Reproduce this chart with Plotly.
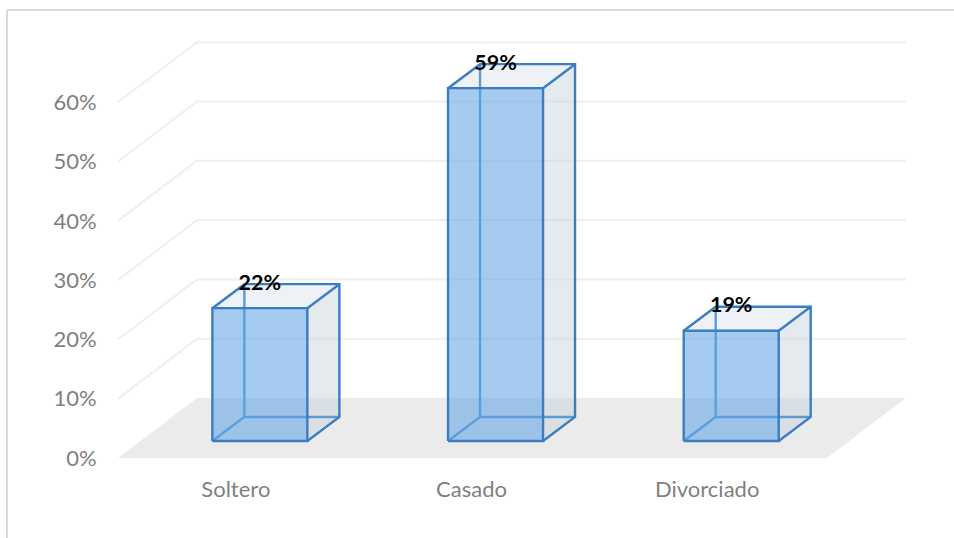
import plotly.graph_objects as go

categories = ["Soltero", "Casado", "Divorciado"]
values = [22.4, 59.5, 18.6]
value_labels = ["22%", "59%", "19%"]
y_ticks = [0, 10, 20, 30, 40, 50, 60]

W, H = 954, 538
L, R, T, B = 118, 0, 10, 80
PX_X = 235.67
PX_Y = 5.93
x0 = -0.5
xr = [x0, x0 + (W - L - R) / PX_X]
yr = [0, (H - T - B) / PX_Y]

# depth of the floor and the bars, in axis units
floor_dx, floor_dy = 79 / PX_X, 60 / PX_Y
floor_w = 3.008
bar_dx, bar_dy = 0.102, 17 / PX_Y
box_dx, box_dy = 32 / PX_X, 24 / PX_Y
half = 47.5 / PX_X

LINE = "#3a7dc0"
INNER = "#5b9bd5"

fig = go.Figure()


def poly(xs, ys, fill=None, line=None, width=2.4):
    fig.add_trace(go.Scatter(
        x=xs, y=ys,
        mode="lines",
        fill="toself" if fill else "none",
        fillcolor=fill,
        line=dict(color=line or "rgba(0,0,0,0)", width=width if line else 0),
        hoverinfo="skip", showlegend=False, cliponaxis=False,
    ))


# gridlines (side wall and back wall)
for t in y_ticks[1:]:
    poly([x0, x0 + floor_dx], [t, t + floor_dy], line="#efefef", width=2)
for t in y_ticks[1:]:
    poly([x0 + floor_dx, x0 + floor_dx + floor_w], [t + floor_dy, t + floor_dy], line="#efefef", width=2)

# floor
poly([x0, x0 + floor_w, x0 + floor_w + floor_dx, x0 + floor_dx, x0],
     [0, 0, floor_dy, floor_dy, 0], fill="#ebebeb")

for i, v in enumerate(values):
    xl = i + bar_dx - half
    xh = i + bar_dx + half
    yb = bar_dy
    yt = bar_dy + v
    # right side face
    poly([xh, xh + box_dx, xh + box_dx, xh, xh],
         [yb, yb + box_dy, yt + box_dy, yt, yb], fill="rgba(198,208,218,0.45)")
    # top face
    poly([xl, xh, xh + box_dx, xl + box_dx, xl],
         [yt, yt, yt + box_dy, yt + box_dy, yt], fill="rgba(222,230,237,0.5)")
    # hidden edges seen through the glass
    poly([xl, xl + box_dx, xl + box_dx], [yb, yb + box_dy, yt + box_dy], line=INNER)
    poly([xl + box_dx, xh + box_dx], [yb + box_dy, yb + box_dy], line=INNER)
    # front face
    poly([xl, xh, xh, xl, xl], [yb, yb, yt, yt, yb], fill="rgba(91,160,230,0.55)")
    # visible edges
    poly([xl, xh, xh, xl, xl], [yb, yb, yt, yt, yb], line=LINE)
    poly([xl, xl + box_dx, xh + box_dx, xh + box_dx, xh],
         [yt, yt + box_dy, yt + box_dy, yb + box_dy, yb], line=LINE)
    poly([xh, xh + box_dx], [yt, yt + box_dy], line=LINE)

# value labels
fig.add_trace(go.Scatter(
    x=[i + bar_dx for i in range(len(values))],
    y=[v + bar_dy + box_dy for v in values],
    mode="text", text=value_labels, textposition="middle center",
    textfont=dict(family="Lato", size=21.5, color="#000000", weight="bold"),
    hoverinfo="skip", showlegend=False, cliponaxis=False,
))

# chart frame (top and left edges)
plot_w, plot_h = W - L - R, H - T - B
fx = (7 - L) / plot_w
fy = (H - B - 10) / plot_h
frame = dict(color="#d9d9d9", width=2)
fig.add_shape(type="line", xref="paper", yref="paper", x0=fx, x1=1, y0=fy, y1=fy, line=frame)
fig.add_shape(type="line", xref="paper", yref="paper", x0=fx, x1=fx, y0=-B / plot_h, y1=fy, line=frame)

tick_font = dict(family="Lato", size=22, color="#7f7f7f")
fig.update_layout(
    width=W, height=H,
    margin=dict(l=L, r=R, t=T, b=B, autoexpand=False),
    paper_bgcolor="white", plot_bgcolor="rgba(0,0,0,0)",
    showlegend=False,
    xaxis=dict(range=xr, tickmode="array", tickvals=list(range(len(categories))),
               ticktext=categories, showgrid=False, zeroline=False, showline=False,
               ticks="outside", ticklen=12, tickcolor="rgba(0,0,0,0)",
               tickfont=tick_font, fixedrange=True),
    yaxis=dict(range=yr, tickmode="array", tickvals=y_ticks,
               ticktext=[f"{t}%" for t in y_ticks], showgrid=False, zeroline=False,
               showline=False, ticks="outside", ticklen=16, tickcolor="rgba(0,0,0,0)",
               tickfont=tick_font, fixedrange=True),
)
fig.write_html("out.html", config={"displayModeBar": False},
               post_script="document.body.style.margin='0';document.documentElement.style.overflow='hidden';")
